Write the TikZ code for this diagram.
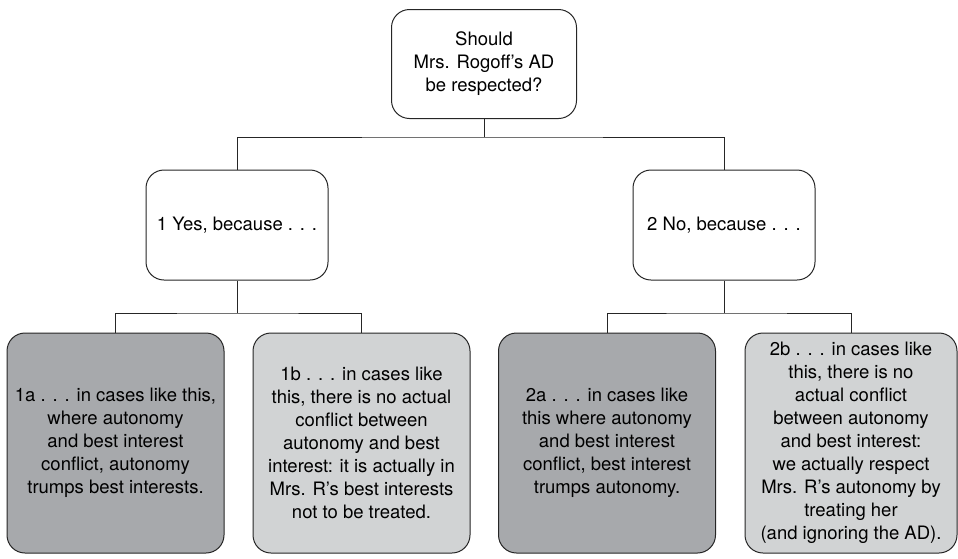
\documentclass[tikz,border=0pt]{standalone}
\usepackage{fontspec}
\setmainfont{TeX Gyre Heros}
\definecolor{darkbox}{HTML}{A7A9AC}
\definecolor{lightbox}{HTML}{D1D3D4}
\begin{document}
\begin{tikzpicture}[x=1pt,y=-1pt,%
% common options for all boxes:
box/.style = {draw=black!85, line width=1pt, rounded corners=18pt,
            align=center, inner sep=0, font=\fontsize{18.5}{23}\selectfont},
% question and the two answers:
ask/.style = {box, fill=white, minimum width=182pt, minimum height=110pt},
% the four reasons:
reason/.style = {box, minimum width=217pt, minimum height=220pt},
% connectors:
link/.style = {draw=black!85, line width=1pt}]
\useasboundingbox (0,0) rectangle (958,558);
\node[ask, minimum width=185pt, minimum height=109pt] (Q) at (484,64) {Should\\Mrs. Rogoff’s AD\\be respected?};
\node[ask] (Y) at (237,225) {1 Yes, because . . .};
\node[ask] (N) at (724,225) {2 No, because . . .};
\node[reason, fill=darkbox] (A1) at (115.5,443) {1a . . . in cases like this,\\where autonomy\\and best interest\\conflict, autonomy\\trumps best interests.};
\node[reason, fill=lightbox] (A2) at (361.5,443) {1b . . . in cases like\\this, there is no actual\\conflict between\\autonomy and best\\interest: it is actually in\\Mrs. R’s best interests\\not to be treated.};
\node[reason, fill=darkbox] (B1) at (607,443) {2a . . . in cases like\\this where autonomy\\and best interest\\conflict, best interest\\trumps autonomy.};
\node[reason, fill=lightbox, minimum width=212pt] (B2) at (851,443) {2b . . . in cases like\\this, there is no\\actual conflict\\between autonomy\\and best interest:\\we actually respect\\Mrs. R’s autonomy by\\treating her\\(and ignoring the AD).};
\coordinate (j0) at (484,137);
\coordinate (j1) at (237,313);
\coordinate (j2) at (724,313);
\draw[link] (Q.south) -- (j0);
\draw[link] (Y.north) |- (j0) -| (N.north);
\draw[link] (Y.south) -- (j1);
\draw[link] (A1.north) |- (j1) -| (A2.north);
\draw[link] (N.south) -- (j2);
\draw[link] (B1.north) |- (j2) -| (B2.north);
\end{tikzpicture}
\end{document}
